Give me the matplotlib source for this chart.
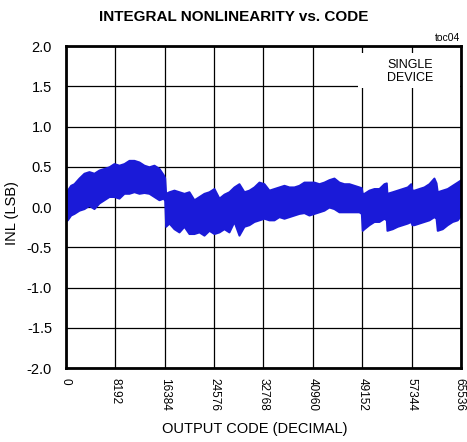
import matplotlib
matplotlib.use("Agg")
import matplotlib.pyplot as plt
from matplotlib.patches import Rectangle
from matplotlib.transforms import ScaledTranslation

title = "INTEGRAL NONLINEARITY vs. CODE"
x_label = "OUTPUT CODE (DECIMAL)"
y_label = "INL (LSB)"
x_ticks = [0, 8192, 16384, 24576, 32768, 40960, 49152, 57344, 65536]
y_ticks = [-2.0, -1.5, -1.0, -0.5, 0.0, 0.5, 1.0, 1.5, 2.0]

# envelope (upper / lower edge) of the noisy INL trace
codes = [0, 221, 774, 1327, 2157, 2986, 3816, 4645, 5475, 6304, 7134, 7963,
         8793, 9622, 10452, 11281, 12111, 12940, 13770, 14600, 15430, 16150,
         16380, 16535, 17090, 17920, 18750, 19580, 20405, 21235, 22065, 22895,
         23725, 24555, 25385, 26212, 27041, 27871, 28700, 29530, 30360, 31190,
         32020, 32850, 33680, 34510, 35340, 36170, 37000, 37825, 38655, 39484,
         40315, 41145, 41975, 42800, 43630, 44460, 45290, 46120, 46950, 47780,
         48610, 49000, 49150, 49440, 50270, 51100, 51930, 52756, 53150, 53250,
         54140, 54970, 55800, 56630, 57200, 57400, 57740, 58560, 59390, 60220,
         61050, 61400, 61600, 62430, 63260, 64090, 64920, 65535]
inl_upper = [0.20, 0.21, 0.27, 0.29, 0.36, 0.42, 0.44, 0.42, 0.46, 0.48, 0.50, 0.54,
             0.52, 0.54, 0.58, 0.58, 0.56, 0.52, 0.50, 0.52, 0.48, 0.40,
             0.36, 0.17, 0.19, 0.21, 0.19, 0.17, 0.19, 0.09, 0.13, 0.17,
             0.19, 0.23, 0.11, 0.16, 0.19, 0.25, 0.29, 0.19, 0.21, 0.25,
             0.31, 0.29, 0.21, 0.23, 0.25, 0.27, 0.25, 0.25, 0.27, 0.31,
             0.31, 0.31, 0.29, 0.31, 0.34, 0.36, 0.31, 0.29, 0.29, 0.27,
             0.25, 0.24, 0.17, 0.17, 0.21, 0.23, 0.23, 0.29, 0.30, 0.17,
             0.19, 0.21, 0.23, 0.25, 0.29, 0.21, 0.21, 0.23, 0.25, 0.29,
             0.36, 0.30, 0.19, 0.21, 0.23, 0.27, 0.31, 0.34]
inl_lower = [-0.17, -0.16, -0.10, -0.08, -0.04, -0.02, 0.02, -0.02, 0.05, 0.09, 0.13, 0.13,
             0.11, 0.17, 0.17, 0.19, 0.17, 0.18, 0.17, 0.13, 0.09, 0.11,
             0.08, -0.24, -0.20, -0.27, -0.31, -0.24, -0.33, -0.33, -0.31, -0.35,
             -0.29, -0.33, -0.31, -0.27, -0.31, -0.18, -0.35, -0.24, -0.22, -0.18,
             -0.16, -0.14, -0.16, -0.16, -0.12, -0.14, -0.12, -0.10, -0.08, -0.07,
             -0.10, -0.08, -0.06, -0.04, 0.00, -0.02, -0.06, -0.06, -0.06, -0.06,
             -0.06, -0.08, -0.29, -0.27, -0.22, -0.18, -0.18, -0.14, -0.16, -0.29,
             -0.27, -0.24, -0.22, -0.20, -0.18, -0.22, -0.22, -0.20, -0.18, -0.16,
             -0.12, -0.14, -0.29, -0.27, -0.22, -0.18, -0.16, -0.10]

plt.rcParams['font.family'] = ['Liberation Sans', 'DejaVu Sans']

fig = plt.figure(figsize=(4.67, 4.42), dpi=100)
ax = fig.add_axes([0.1413, 0.1674, 0.8458, 0.7285])

blue = '#1a1ad8'
ax.fill_between(codes, inl_lower, inl_upper, facecolor=blue, edgecolor=blue,
                lw=1.4, zorder=3)

ax.set_xlim(0, 65536)
ax.set_ylim(-2.0, 2.0)
ax.set_xticks(x_ticks)
ax.set_xticklabels([str(t) for t in x_ticks], rotation=-90, fontsize=8.5)
ax.set_yticks(y_ticks)
ax.set_yticklabels([f"{t:.1f}" for t in y_ticks], fontsize=10.5)
ax.tick_params(length=0, pad=10)
ax.tick_params(axis='x', pad=7)
ax.grid(True, color='black', lw=0.9)
ax.set_axisbelow(True)
for s in ax.spines.values():
    s.set_linewidth(2.0)
    s.set_zorder(5)

last = ax.get_xticklabels()[-1]
last.set_transform(last.get_transform() + ScaledTranslation(-2 / 100, 0, fig.dpi_scale_trans))

ax.set_xlabel(x_label, fontsize=10.5)
ax.xaxis.set_label_coords(0.477, -0.168)
ax.set_ylabel(y_label, fontsize=10.5)
ax.yaxis.set_label_coords(-0.118, 0.48)
fig.text(0.5, 0.9615, title, ha='center', va='center', fontsize=11, fontweight='bold')
fig.text(0.986, 0.914, "toc04", ha='right', va='center', fontsize=7.5)

ax.add_patch(Rectangle((0.739, 0.870), 0.258, 0.108, transform=ax.transAxes,
                       facecolor='white', edgecolor='none', zorder=2))
ax.text(0.871, 0.922, "SINGLE\nDEVICE", transform=ax.transAxes, ha='center', va='center',
        fontsize=9, linespacing=1.1, zorder=4)

fig.savefig("out.png", dpi=100)
